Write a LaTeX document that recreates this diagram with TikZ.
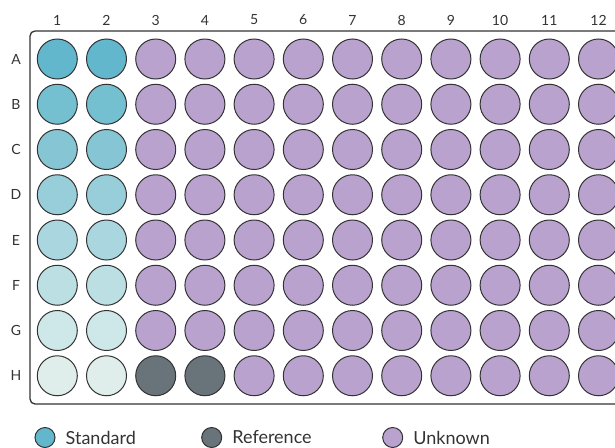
\documentclass[tikz,border=0pt]{standalone}
\usepackage{fontspec}
\setmainfont{Lato}
\usetikzlibrary{positioning}
\definecolor{cStdA}{HTML}{63B7CC}
\definecolor{cStdB}{HTML}{74BFD0}
\definecolor{cStdC}{HTML}{86C6D4}
\definecolor{cStdD}{HTML}{98CED9}
\definecolor{cStdE}{HTML}{AAD6DF}
\definecolor{cStdF}{HTML}{BCDFE3}
\definecolor{cStdG}{HTML}{CEE7E8}
\definecolor{cStdH}{HTML}{DFEEEB}
\definecolor{cRef}{HTML}{68737A}
\definecolor{cUnk}{HTML}{B9A3CE}
\definecolor{cInk}{HTML}{333333}
\tikzset{
  well/.style={circle,draw=cInk,line width=1pt,inner sep=0pt,minimum size=40pt},
  key/.style={circle,draw=cInk,line width=1pt,inner sep=0pt,minimum size=20pt},
  lbl/.style={font=\fontsize{14}{14}\selectfont,text=cInk,inner sep=0pt},
  keytxt/.style={font=\fontsize{18}{18}\selectfont,text=cInk,inner sep=0pt,anchor=west},
  plate/.style={draw=cInk,line width=1.3pt,rounded corners=5pt},
}

\begin{document}
\begin{tikzpicture}[x=1pt,y=-1pt]
  \useasboundingbox (0,0) rectangle (615,447);
  \clip (0,0) rectangle (615,447);
  \draw[plate] (30,31) rectangle (640,404);
  % column numbers
  \foreach \c in {1,...,12}{
    \node[lbl] (col-\c) at ({57.3+49.2*(\c-1)},20) {\c};
  }
  % rows of wells
  \foreach \r [count=\i from 0] in {A,B,C,D,E,F,G,H}{
    \node[lbl] (row-\r) at (16,{59+45.25*\i}) {\r};
    \foreach \c in {1,...,12}{
      \ifnum\c<3
        \node[well,fill=cStd\r] (w-\r\c) at ({57.3+49.2*(\c-1)},{59+45.25*\i}) {};
      \else
        \ifnum\i=7
          \ifnum\c<5
            \node[well,fill=cRef] (w-\r\c) at ({57.3+49.2*(\c-1)},{59+45.25*\i}) {};
          \else
            \node[well,fill=cUnk] (w-\r\c) at ({57.3+49.2*(\c-1)},{59+45.25*\i}) {};
          \fi
        \else
          \node[well,fill=cUnk] (w-\r\c) at ({57.3+49.2*(\c-1)},{59+45.25*\i}) {};
        \fi
      \fi
    }
  }
  % legend
  \node[key,fill=cStdA] (k-std) at (45,437.5) {};
  \node[keytxt,right=10pt of k-std] (t-std) {Standard};
  \node[key,fill=cRef] (k-ref) at (211.7,437.5) {};
  \node[keytxt,right=10pt of k-ref] (t-ref) {Reference};
  \node[key,fill=cUnk] (k-unk) at (392.7,437.5) {};
  \node[keytxt,right=10pt of k-unk] (t-unk) {Unknown};
\end{tikzpicture}
\end{document}
